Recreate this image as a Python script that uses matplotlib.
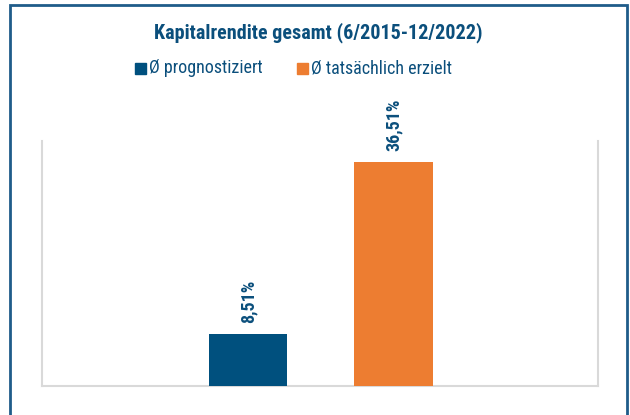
import matplotlib
matplotlib.use("Agg")
import matplotlib.pyplot as plt
from matplotlib.patches import Rectangle
from matplotlib import font_manager as fm

series = ["Ø prognostiziert", "Ø tatsächlich erzielt"]
values = [8.51, 36.51]
labels = ["8,51%", "36,51%"]
colors = ["#00507E", "#ED7D31"]
title = "Kapitalrendite gesamt (6/2015-12/2022)"

names = {f.name for f in fm.fontManager.ttflist}
fam = [n for n in ["Liberation Sans Narrow", "Roboto Condensed", "Roboto", "DejaVu Sans"] if n in names]
plt.rcParams["font.family"] = fam

W, H = 630, 415
fig = plt.figure(figsize=(W / 100, H / 100), dpi=100)
txt = "#0B4F7C"

# outer frame
fig.patches.append(Rectangle((10 / W, -0.05), 617 / W, 1 - 5 / H + 0.05,
                             transform=fig.transFigure, fill=False,
                             edgecolor="#1F5C8A", linewidth=2))

ax = fig.add_axes([42 / W, 1 - 386 / H, 556 / W, 245 / H])
x = [0, 1]
bars = ax.bar(x, values, width=0.54, color=colors, zorder=3)
ax.set_xlim(-1.42, 2.41)
ax.set_ylim(0, 40)
for s in ["top"]:
    ax.spines[s].set_visible(False)
for s in ["left", "right", "bottom"]:
    ax.spines[s].set_color("#D9D9D9")
    ax.spines[s].set_linewidth(1.5)
ax.set_xticks([])
ax.set_yticks([])

for xi, v, lab in zip(x, values, labels):
    ax.annotate(lab, (xi, v), xytext=(0, 8), textcoords="offset points",
                rotation=90, ha="center", va="bottom", fontsize=13,
                fontweight="bold", color=txt)

fig.text(318 / W, 1 - 33 / H, title, ha="center", va="center",
         fontsize=14.5, fontweight="bold", color=txt)

# legend
for (lx, name, c) in [(135, series[0], colors[0]), (297, series[1], colors[1])]:
    fig.patches.append(Rectangle((lx / W, 1 - 74 / H), 11 / W, 11 / H,
                                 transform=fig.transFigure, color=c))
    fig.text((lx + 14) / W, 1 - 68 / H, name, ha="left", va="center",
             fontsize=13, color=txt)

fig.savefig("out.png", dpi=100)
